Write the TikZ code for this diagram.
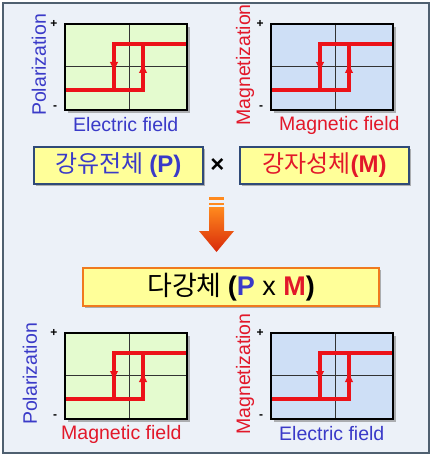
\documentclass[tikz,border=0pt]{standalone}
\usepackage{fontspec}
\setmainfont{Liberation Sans}
\newfontfamily\kr{Noto Sans CJK KR}
\usepackage{xcolor}
\usetikzlibrary{positioning, arrows.meta, shadows}

\definecolor{bgblue}{HTML}{ECF1F8}
\definecolor{framegray}{HTML}{4F6070}
\definecolor{plotgreen}{HTML}{E4FBCF}
\definecolor{plotblue}{HTML}{CEDFF6}
\definecolor{ptblue}{HTML}{3A3AC8}
\definecolor{magred}{HTML}{E2182A}
\definecolor{loopred}{HTML}{EC1219}
\definecolor{boxyellow}{HTML}{FFFF99}
\definecolor{navy}{HTML}{2F4A78}
\definecolor{boxorange}{HTML}{F07A1E}
\definecolor{arrtop}{HTML}{FF8A1E}
\definecolor{arrbot}{HTML}{D8290A}

\tikzstyle{plotframe} = [draw=black, line width=2pt, minimum width=122pt, minimum height=86pt, inner sep=0pt, anchor=north west, drop shadow={shadow xshift=3pt, shadow yshift=-3pt, fill=gray, opacity=0.6}]
\tikzstyle{gridline} = [line width=0.6pt, black!80]
\tikzstyle{hloop} = [loopred, line width=3.5pt]
\tikzstyle{loopmark} = [loopred, line width=1pt, -{Triangle[length=8pt, width=8pt]}]
\tikzstyle{axislabel} = [font=\fontsize{19.5}{21}\selectfont, inner sep=0pt]
\tikzstyle{signlabel} = [font=\bfseries\fontsize{12}{12}\selectfont, inner sep=0pt]
\tikzstyle{material} = [draw=navy, line width=2.5pt, fill=boxyellow, minimum width=169pt, minimum height=37pt, inner sep=0pt, font=\kr\fontsize{24}{26}\selectfont, drop shadow={shadow xshift=2pt, shadow yshift=-2pt, fill=gray, opacity=0.6}]
\tikzstyle{multi} = [material, draw=boxorange, minimum width=296pt, minimum height=38pt, font=\kr\fontsize{27}{30}\selectfont]

\begin{document}
\begin{tikzpicture}[x=1pt, y=-1pt]
\useasboundingbox (0,0) rectangle (434,457);
\draw[framegray, line width=2pt, fill=bgblue] (3,3) rectangle (429,453);

% hysteresis loops
\foreach \x/\y/\plotc/\ylab/\ylabc/\xlab/\xlabc/\yo/\xo/\n in {
  64/23/plotgreen/Polarization/ptblue/Electric field/ptblue/-25/9/pa,
  270/23/plotblue/Magnetization/magred/Magnetic field/magred/-25/9/pb,
  64/332/plotgreen/Polarization/ptblue/Magnetic field/magred/-34/-3/pc,
  270/332/plotblue/Magnetization/magred/Electric field/ptblue/-25/9/pd}
{
\begin{scope}[shift={(\x,\y)}]
\node[plotframe, fill=\plotc] (\n) at (0,0) {};
\draw[gridline] (65,0) -- (65,86);
\draw[gridline] (0,43) -- (122,43);
\draw[hloop] (0,67) -- (79,67) -- (79,21) -- (122,21);
\draw[hloop] (50,67) -- (50,21) -- (79,21);
\draw[loopmark] (50,30) -- (50,47);
\draw[loopmark] (79,60) -- (79,42);
\node[draw=black, line width=2pt, minimum width=122pt, minimum height=86pt, inner sep=0pt, anchor=north west] (\n-f) at (0,0) {};
\node[signlabel] (\n-p) at (-10,1) {+};
\node[signlabel] (\n-m) at (-9,85) {-};
\node[axislabel, text=\ylabc, rotate=90] (\n-y) at (\yo,42) {\ylab};
\node[axislabel, text=\xlabc, anchor=west] (\n-x) at (\xo,102) {\xlab};
\end{scope}
}

% materials
\node[material, text=ptblue] (ferro) at (118.5,165.5) {강유전체 {\rmfamily\bfseries (P)}};
\node[right=6pt of ferro, inner sep=0pt, font=\bfseries\fontsize{24}{24}\selectfont] (times) {×};
\node[material, text=magred, right=14pt of times] (magnet) {강자성체{\rmfamily\bfseries(M)}};

% block arrow
\fill[arrtop] (209,197) rectangle (224,200);
\fill[arrtop] (209,202.5) rectangle (224,205);
\shade[top color=arrtop, bottom color=arrbot] (209,207) -- (224,207) -- (224,231) -- (234,231) -- (216.5,252) -- (199,231) -- (209,231) -- cycle;

\node[multi] (multif) at (231,287) {다강체 {\rmfamily\bfseries (\textcolor{ptblue}{P} \mdseries x \bfseries\textcolor{magred}{M})}};

\end{tikzpicture}
\end{document}
